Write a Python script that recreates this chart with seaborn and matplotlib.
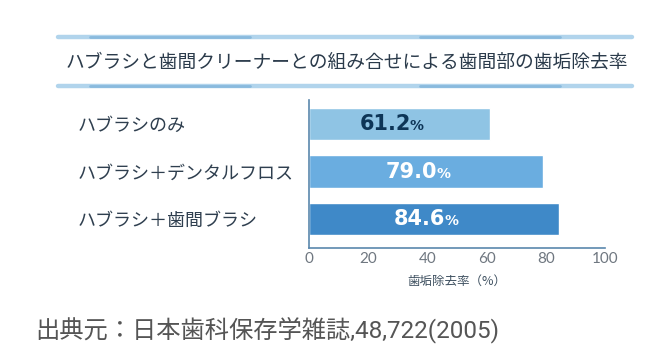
import matplotlib
matplotlib.use("Agg")
import matplotlib.pyplot as plt
import seaborn as sns
import pandas as pd
from matplotlib.lines import Line2D

categories = ["ハブラシのみ", "ハブラシ＋デンタルフロス", "ハブラシ＋歯間ブラシ"]
values = [61.2, 79.0, 84.6]
value_labels = ["61.2", "79.0", "84.6"]
bar_colors = ["#8fc4e4", "#6aade0", "#3f89c8"]
label_colors = ["#0d3557", "#ffffff", "#ffffff"]
x_ticks = [0, 20, 40, 60, 80, 100]
title = "ハブラシと歯間クリーナーとの組み合せによる歯間部の歯垢除去率"
x_label = "歯垢除去率（%）"
source = "出典元：日本歯科保存学雑誌,48,722(2005)"

sns.set_theme(style="white")
plt.rcParams["font.family"] = ["Noto Sans CJK JP", "DejaVu Sans"]

df = pd.DataFrame({"cat": categories, "val": values})

fig = plt.figure(figsize=(6.49, 3.51), dpi=100)
ax = fig.add_axes([309/649, 1-248/351, (605-309)/649, (248-100)/351])

sns.barplot(data=df, x="val", y="cat", hue="cat", palette=bar_colors,
            orient="h", width=0.69, legend=False, ax=ax, saturation=1)

ax.set_xlim(0, 100)
ax.set_ylim(2.61, -0.505)
ax.set_xticks(x_ticks)
ax.set_xticklabels([str(t) for t in x_ticks], family=["Lato", "DejaVu Sans"],
                   fontsize=11, color="#6f7780")
ax.set_xlabel(x_label, fontsize=9, color="#3e5060", labelpad=6)
ax.set_ylabel("")
ax.tick_params(axis="x", direction="in", length=4, color="#5a87ad", width=1, pad=3)
ax.tick_params(axis="y", length=0, pad=(309-78)*0.72)
for lab in ax.get_yticklabels():
    lab.set_ha("left")
    lab.set_fontsize(13)
    lab.set_color("#2f3f4f")

for s in ["top", "right"]:
    ax.spines[s].set_visible(False)
for s in ["left", "bottom"]:
    ax.spines[s].set_color("#5a87ad")
    ax.spines[s].set_linewidth(1.2)

for i, (v, lab, c) in enumerate(zip(values, value_labels, label_colors)):
    cx = v / 2 + 1.5
    ax.annotate(lab, xy=(cx, i), xytext=(5, 0), textcoords="offset points",
                ha="right", va="center", fontsize=15, fontweight="bold",
                family=["DejaVu Sans"], color=c)
    ax.annotate("%", xy=(cx, i), xytext=(4.2, -1.5), textcoords="offset points",
                ha="left", va="center", fontsize=10, fontweight="bold",
                family=["DejaVu Sans"], color=c)

# title with brushed lines
fig.text(347/649, 1-62/351, title, ha="center", va="center", fontsize=13.5,
         color="#2b3b4b")
for yy in (37, 86):
    y = 1 - yy/351
    fig.add_artist(Line2D([58/649, 632/649], [y, y], color="#a9d0ea", lw=3.2,
                          alpha=0.9, solid_capstyle="round"))
    fig.add_artist(Line2D([90/649, 250/649], [y, y], color="#6fa9d4", lw=2,
                          alpha=0.6))
    fig.add_artist(Line2D([420/649, 560/649], [y, y], color="#6fa9d4", lw=2,
                          alpha=0.6))

fig.text(35/649, 1-330/351, source, ha="left", va="center", fontsize=17.5,
         color="#555555", family=["Roboto", "Noto Sans CJK JP"])

fig.savefig("out.png", dpi=100, facecolor="white")
